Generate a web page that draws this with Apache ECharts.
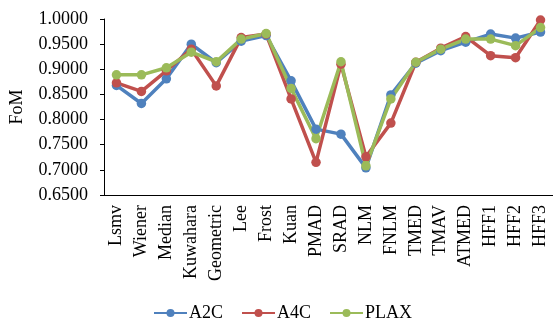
<!DOCTYPE html>
<html>
<head>
<meta charset="utf-8">
<script src="https://cdn.jsdelivr.net/npm/echarts@6/dist/echarts.min.js"></script>
<style>
  html, body { margin: 0; padding: 0; background: #fff; }
  #chart { width: 553px; height: 327px; }
</style>
</head>
<body>
<div id="chart"></div>
<script>
// Despeckling filters compared by figure of merit
const categories = ['Lsmv', 'Wiener', 'Median', 'Kuwahara', 'Geometric', 'Lee', 'Frost', 'Kuan',
  'PMAD', 'SRAD', 'NLM', 'FNLM', 'TMED', 'TMAV', 'ATMED', 'HFF1', 'HFF2', 'HFF3'];

const a2c  = [0.868, 0.832, 0.881, 0.950, 0.913, 0.956, 0.967, 0.877, 0.781, 0.771, 0.704, 0.849, 0.912, 0.937, 0.954, 0.970, 0.962, 0.974];
const a4c  = [0.873, 0.856, 0.897, 0.940, 0.867, 0.963, 0.970, 0.841, 0.715, 0.910, 0.726, 0.793, 0.914, 0.942, 0.965, 0.927, 0.923, 0.998];
const plax = [0.889, 0.889, 0.903, 0.934, 0.915, 0.960, 0.971, 0.862, 0.762, 0.915, 0.708, 0.841, 0.914, 0.940, 0.960, 0.960, 0.947, 0.983];

const yTicks = { min: 0.65, max: 1.0, step: 0.05 };

const serif = '"Liberation Serif", "Times New Roman", serif';

function makeSeries(name, data, color) {
  return {
    name: name,
    type: 'line',
    data: data,
    symbol: 'circle',
    symbolSize: 9.5,
    itemStyle: { color: color },
    lineStyle: { color: color, width: 3.5 },
    emphasis: { disabled: true }
  };
}

const chart = echarts.init(document.getElementById('chart'), null, { renderer: 'canvas' });
chart.setOption({
  animation: false,
  backgroundColor: '#ffffff',
  grid: { left: 104, right: 0, top: 19, bottom: 132, containLabel: false },
  legend: {
    left: 153,
    top: 304,
    padding: 0,
    itemWidth: 33,
    itemHeight: 10,
    itemGap: 18,
    textStyle: { fontFamily: serif, fontSize: 18, color: '#000', padding: [0, 0, 0, -3] },
    data: ['A2C', 'A4C', 'PLAX']
  },
  xAxis: {
    type: 'category',
    data: categories,
    boundaryGap: true,
    axisLine: { lineStyle: { color: '#000', width: 1 } },
    axisTick: { inside: true, length: 5, lineStyle: { color: '#000' } },
    axisLabel: {
      rotate: 90,
      margin: 10,
      interval: 0,
      fontFamily: serif,
      fontSize: 18,
      color: '#000'
    },
    splitLine: { show: false }
  },
  yAxis: {
    type: 'value',
    min: yTicks.min,
    max: yTicks.max,
    interval: yTicks.step,
    name: 'FoM',
    nameLocation: 'middle',
    nameGap: 78,
    nameTextStyle: { fontFamily: serif, fontSize: 18, color: '#000' },
    axisLine: { show: true, lineStyle: { color: '#000', width: 1 } },
    axisTick: { show: true, inside: false, length: 4, lineStyle: { color: '#000' } },
    axisLabel: {
      margin: 16,
      fontFamily: serif,
      fontSize: 18,
      color: '#000',
      formatter: function (v) { return v.toFixed(4); }
    },
    splitLine: { show: false }
  },
  series: [
    makeSeries('A2C', a2c, '#4F81BD'),
    makeSeries('A4C', a4c, '#C0504D'),
    makeSeries('PLAX', plax, '#9BBB59')
  ]
});
</script>
</body>
</html>
